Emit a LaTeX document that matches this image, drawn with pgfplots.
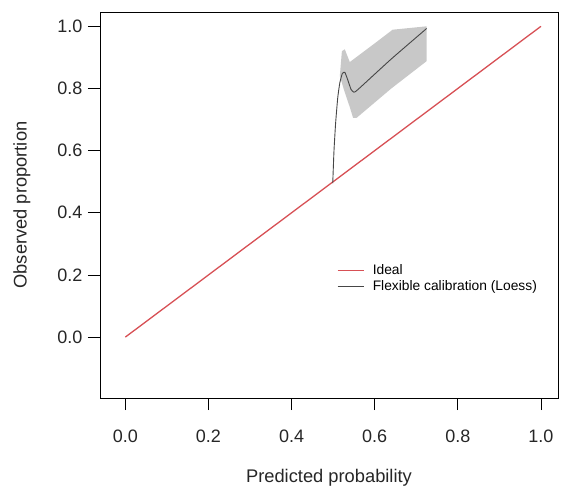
\documentclass[border=0pt]{standalone}
\usepackage{pgfplots}
\pgfplotsset{compat=1.18}
\usepackage{fontspec}
\setmainfont{Liberation Sans}
\definecolor{ideal}{RGB}{215,80,85}
\definecolor{band}{RGB}{200,200,200}
\definecolor{curve}{RGB}{70,70,70}
\begin{document}
\begin{tikzpicture}
\useasboundingbox (-100pt,-95pt) rectangle (461pt,398pt);
\begin{axis}[
  scale only axis, width=458pt, height=386pt,
  at={(0,0)}, anchor=south west,
  xmin=-0.061, xmax=1.041, ymin=-0.196, ymax=1.046,
  xtick={0,0.2,0.4,0.6,0.8,1.0}, ytick={0,0.2,0.4,0.6,0.8,1.0},
  xtick pos=bottom, ytick pos=left,
  tick align=outside, major tick length=12pt,
  every tick/.style={black, line width=0.7pt},
  axis line style={black, line width=0.8pt},
  /pgf/number format/assume math mode=true,
  /pgf/number format/fixed, /pgf/number format/fixed zerofill, /pgf/number format/precision=1,
  ticklabel style={font=\fontsize{18}{21}\selectfont, text=black!85},
  xticklabel style={anchor=north, yshift=-16pt},
  yticklabel style={anchor=east, xshift=-2pt},
  xlabel={Predicted probability}, ylabel={Observed proportion},
  label style={font=\fontsize{18.3}{21}\selectfont, text=black!85},
  xlabel style={at={(axis description cs:0.5,-0.2073)}, anchor=center},
  ylabel style={at={(axis description cs:-0.1703,0.5)}, anchor=center},
  legend style={draw=none, fill=none, at={(axis description cs:0.517,0.349)}, anchor=north west,
    font=\fontsize{13.8}{16}\selectfont, inner sep=0pt, row sep=1pt,
    nodes={inner sep=1.5pt}},
  legend cell align=left,
  legend image code/.code={\draw[#1] (0pt,0pt) -- (26pt,0pt);},
]
\addplot[fill=band, draw=none, forget plot] coordinates {
 (0.516,0.84) (0.521,0.92) (0.528,0.926) (0.540,0.885) (0.600,0.945) (0.643,0.989) (0.725,1.0)
 (0.725,0.888) (0.640,0.80) (0.556,0.705) (0.548,0.705) (0.540,0.74) (0.525,0.80) (0.516,0.84)
} -- cycle;
\addplot[ideal, line width=1.3pt] coordinates {(0,0) (1,1)};
\addlegendentry{\hspace*{7pt}Ideal}
\addplot[curve, line width=0.9pt, smooth, tension=0.3] coordinates {
 (0.499,0.495) (0.502,0.60) (0.506,0.69) (0.511,0.77) (0.516,0.818) (0.522,0.848) (0.528,0.852)
 (0.535,0.828) (0.543,0.797) (0.550,0.788) (0.560,0.797) (0.640,0.895) (0.725,0.993)
};
\addlegendentry{\hspace*{7pt}Flexible calibration (Loess)}
\end{axis}
\end{tikzpicture}
\end{document}
